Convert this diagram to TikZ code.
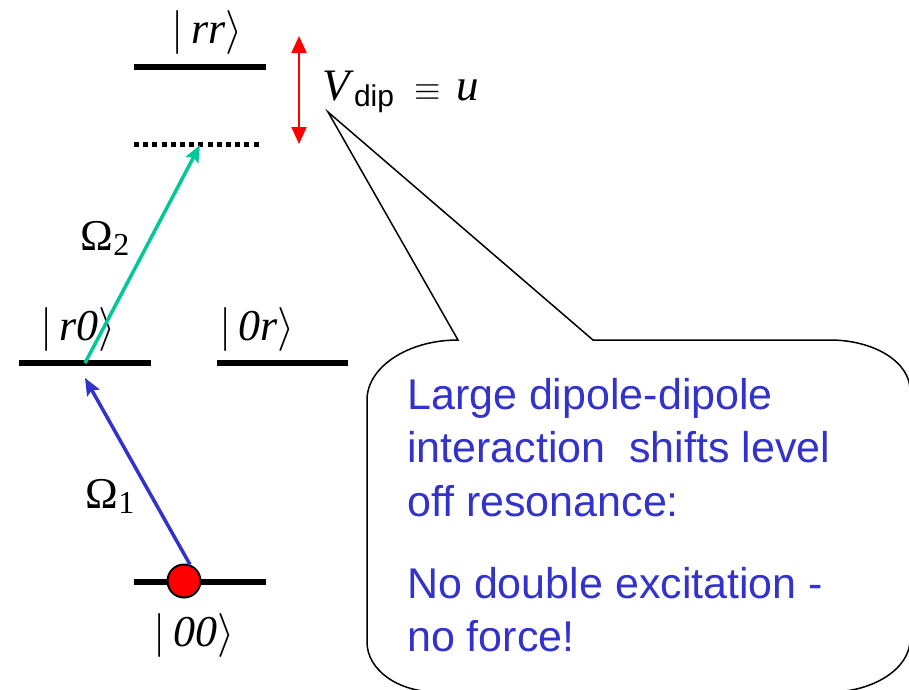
\RequirePackage{fix-cm}
\documentclass[tikz,border=0pt]{standalone}
\usepackage{fontspec}
\setmainfont{Liberation Serif}
\setsansfont{Liberation Sans}
\usepackage{xcolor}
\usetikzlibrary{arrows.meta}
\definecolor{exgreen}{RGB}{0,200,150}
\definecolor{exblue}{RGB}{51,51,204}
\newcommand{\ketlbl}[1]{$|\,$\textit{#1}$\rangle$}

\begin{document}
\begin{tikzpicture}[
  x=1pt, y=-1pt,
  level/.style={line width=6pt},
  virtlevel/.style={line width=5pt, dash pattern=on 5pt off 4.2pt},
  ketlabel/.style={anchor=base, inner sep=0pt, font=\fontsize{44}{50}\selectfont},
  rabi/.style={anchor=base, inner sep=0pt, font=\fontsize{44}{50}\selectfont},
  laser/.style={line width=3.5pt, -{Stealth[length=17pt, width=14pt, inset=3pt]}},
  shiftarrow/.style={red, line width=2pt, {Triangle[length=17pt, width=15pt]}-{Triangle[length=17pt, width=15pt]}},
  bubbletext/.style={anchor=base west, inner sep=0pt, text=exblue, font=\sffamily\fontsize{43}{53}\selectfont}
]
\useasboundingbox (0,0) rectangle (909,689);
\clip (0,0) rectangle (909,689);

% energy levels
\draw[level] (134,67) -- (266,67);
\draw[virtlevel] (134,144) -- (262,144);
\draw[level] (19,363) -- (151,363);
\draw[level] (217,363) -- (348,363);
\draw[level] (134,582) -- (266,582);

% level labels
\node[ketlabel] (ketrr) at (207,43) {\ketlbl{rr}};
\node[ketlabel] (ketrz) at (78,340) {\ketlbl{r0}};
\node[ketlabel] (ketzr) at (257,340) {\ketlbl{0r}};
\node[ketlabel] (ketzz) at (194,646) {\ketlbl{00}};

% atom
\node[circle, draw, line width=2pt, fill=red, minimum size=33pt, inner sep=0pt] (atom) at (184,581) {};

% excitation paths
\coordinate (rzexc) at (85,363);
\coordinate (rzarr) at (85,378);
\coordinate (rrvirt) at (200,145);
\draw[laser, exblue] (atom.70) -- (rzarr);
\draw[laser, exgreen] (rzexc) -- (rrvirt);
\node[rabi] (omega1) at (110,508) {Ω\raisebox{-0.25ex}{\fontsize{32}{32}\selectfont 1}};
\node[rabi] (omega2) at (105,250) {Ω\raisebox{-0.25ex}{\fontsize{32}{32}\selectfont 2}};

% interaction shift
\coordinate (shifttop) at (299,36);
\coordinate (shiftbot) at (299,144);
\draw[shiftarrow] (shifttop) -- (shiftbot);
\node[anchor=base west, inner sep=0pt, font=\fontsize{45}{50}\selectfont] (vdip) at (322,100)
  {\textit{V}\raisebox{-0.3ex}{\sffamily\fontsize{30}{30}\selectfont dip}\hspace{20pt}{\fontsize{34}{34}\selectfont$\equiv$}\hspace{16pt}\textit{u}};

% speech bubble
\coordinate (tip) at (328,112);
\draw[line width=1.5pt] (458,340) -- (tip) -- (593,340) -- (830,340)
  .. controls (874,340) and (910,362) .. (910,390) -- (910,640)
  .. controls (910,668) and (874,692) .. (830,692) -- (437,692)
  .. controls (398,692) and (367,670) .. (367,642) -- (367,400)
  .. controls (367,367) and (408,340) .. (458,340) -- cycle;
\node[bubbletext] (txta) at (407,409) {Large dipole-dipole};
\node[bubbletext] (txtb) at (407,462) {interaction\ \ shifts level};
\node[bubbletext] (txtc) at (407,516) {off resonance:};
\node[bubbletext] (txtd) at (407,598) {No double excitation -};
\node[bubbletext] (txte) at (407,651) {no force!};
\end{tikzpicture}
\end{document}
